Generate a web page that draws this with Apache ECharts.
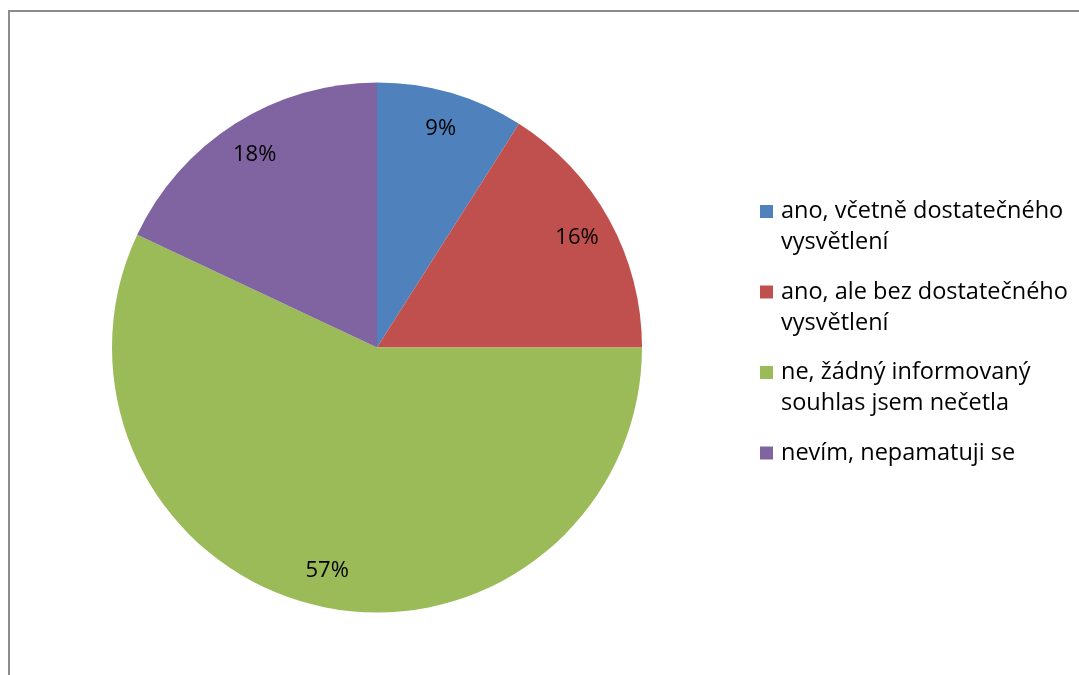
<!DOCTYPE html>
<html>
<head>
<meta charset="utf-8">
<script src="https://cdn.jsdelivr.net/npm/echarts@6/dist/echarts.min.js"></script>
<style>
  html, body { margin: 0; padding: 0; background: #fff; }
  #chart { width: 1079px; height: 675px; }
</style>
</head>
<body>
<div id="chart"></div>
<script>
// Survey answers (share of respondents, %)
const categories = [
  'ano, včetně dostatečného\nvysvětlení',
  'ano, ale bez dostatečného\nvysvětlení',
  'ne, žádný informovaný\nsouhlas jsem nečetla',
  'nevím, nepamatuji se'
];
const values = [9, 16, 57, 18];
const colors = ['#4f81bd', '#c0504d', '#9bbb59', '#8064a2'];

const pieData = categories.map((name, i) => ({ name: name, value: values[i] }));

const center = [377, 347.5];
const R = 265;
const font = '"Open Sans", "Noto Sans", sans-serif';

// Legend text is centred on its marker; every entry becomes a three-line
// block whose middle line is the first line of text, so the marker sits
// beside that line and all entries have the same height.
function legendText(name) {
  const lines = name.split('\n');
  const block = [''].concat(lines);
  while (block.length < 3) block.push(' ');
  return block.join('\n');
}

const chart = echarts.init(document.getElementById('chart'));
chart.setOption({
  animation: false,
  color: colors,
  graphic: [{
    type: 'rect',
    shape: { x: 9, y: 11, width: 1200, height: 800 },
    style: { fill: 'none', stroke: '#8c8c8c', lineWidth: 2 },
    silent: true
  }],
  legend: {
    orient: 'vertical',
    left: 760,
    top: 165,
    padding: 0,
    itemGap: -12.5,
    itemWidth: 13,
    itemHeight: 13,
    icon: 'rect',
    data: categories,
    formatter: legendText,
    textStyle: {
      fontFamily: font,
      fontSize: 23.5,
      lineHeight: 31,
      color: '#000',
      padding: [0, 0, 0, 3]
    }
  },
  series: [
    {
      // slices
      type: 'pie',
      center: center,
      radius: [0, R],
      startAngle: 90,
      clockwise: true,
      silent: true,
      label: { show: false },
      labelLine: { show: false },
      data: pieData
    },
    {
      // percentage labels, placed in an outer ring
      type: 'pie',
      center: center,
      radius: [R * 0.7, R],
      startAngle: 90,
      clockwise: true,
      silent: true,
      itemStyle: { color: 'rgba(0,0,0,0)' },
      label: {
        show: true,
        position: 'inside',
        formatter: p => p.value + '%',
        fontFamily: font,
        fontSize: 22,
        color: '#000'
      },
      labelLine: { show: false },
      data: pieData
    }
  ]
});
</script>
</body>
</html>
